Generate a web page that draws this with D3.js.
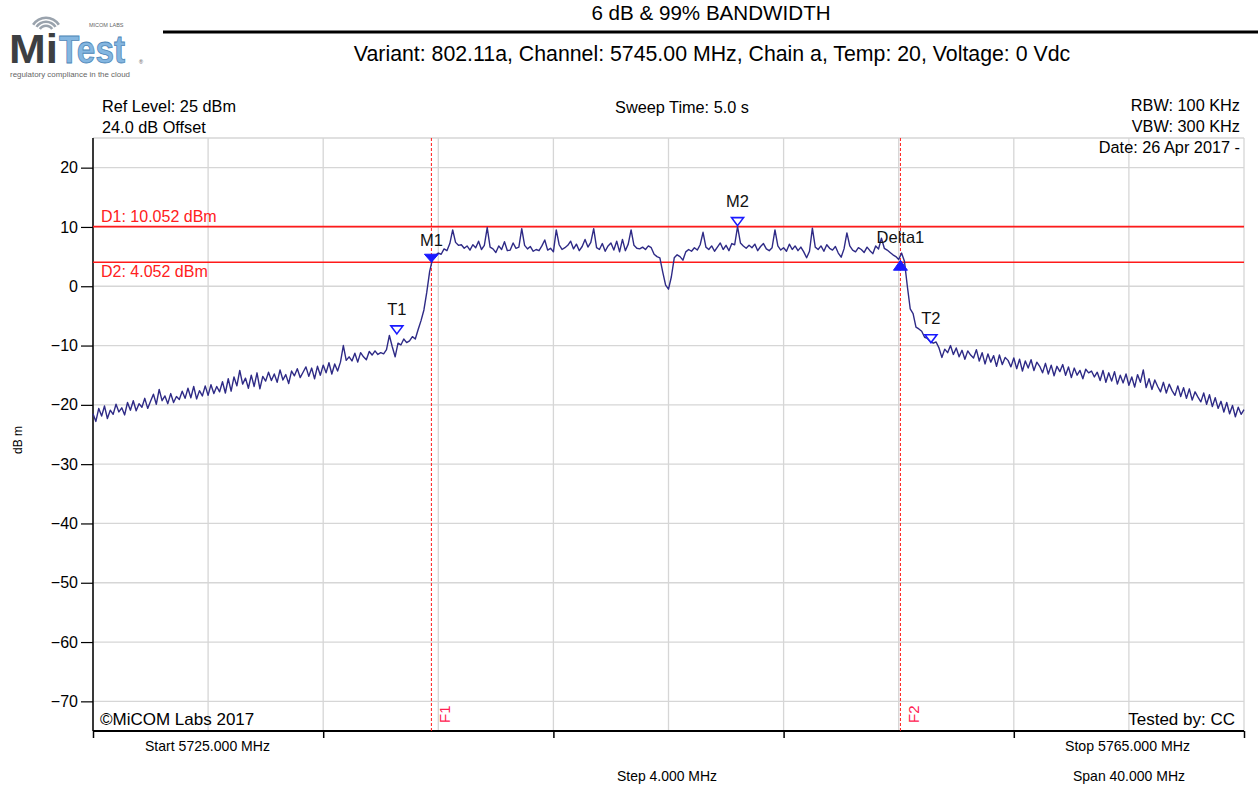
<!DOCTYPE html>
<html><head><meta charset="utf-8">
<script src="https://cdn.jsdelivr.net/npm/d3@7"></script>
<style>
html,body{margin:0;padding:0;background:#fff;}
text{font-family:Arial,"Liberation Sans",sans-serif;}
</style></head>
<body><svg id="c" width="1258" height="786"></svg>
<script>
// ---------- data ----------
const startFreq = 5725.0, stopFreq = 5765.0, stepMHz = 0.1;
const yTicks = [20, 10, 0, -10, -20, -30, -40, -50, -60, -70];
const traceDbm = [
 -21.5,-22.8,-20.6,-21.9,-20.2,-22.3,-20.9,-21.6,-19.9,-21.2,
 -20.5,-21.7,-19.6,-20.9,-19.3,-21.0,-19.8,-20.4,-18.9,-20.6,
 -19.4,-18.2,-19.9,-17.4,-19.3,-18.5,-19.8,-18.1,-19.6,-18.6,
 -19.1,-17.7,-18.9,-17.2,-18.8,-16.9,-19.0,-17.6,-18.5,-16.8,
 -18.4,-16.6,-18.1,-16.9,-17.8,-16.1,-18.0,-15.6,-17.7,-15.3,
 -16.8,-14.2,-16.5,-15.5,-17.2,-15.0,-16.9,-14.6,-17.3,-15.2,
 -16.0,-14.5,-15.9,-14.8,-16.2,-14.1,-15.8,-14.9,-16.4,-14.3,
 -15.1,-13.9,-15.4,-14.5,-13.6,-15.2,-13.8,-15.6,-13.5,-15.0,
 -13.3,-14.6,-12.9,-14.8,-13.1,-14.3,-12.8,-10.0,-12.5,-11.9,
 -12.6,-11.3,-12.8,-11.2,-11.9,-12.4,-11.0,-11.6,-10.9,-11.5,
 -11.2,-11.4,-10.7,-8.3,-10.2,-11.9,-9.6,-9.9,-8.9,-9.5,
 -9.2,-8.5,-8.9,-7.3,-5.8,-4.0,-1.0,2.5,4.6,5.2,
 5.6,5.4,6.3,6.0,7.2,9.5,7.4,6.9,7.0,6.4,
 6.8,6.1,7.0,6.5,7.6,6.2,6.9,9.9,6.6,6.3,
 5.7,6.8,6.2,7.5,6.0,6.1,7.3,6.4,6.6,9.7,
 6.9,6.3,6.7,5.9,6.2,6.0,6.8,7.8,6.1,6.4,
 5.8,9.5,7.0,6.2,6.5,6.9,7.6,6.3,7.1,6.0,
 6.7,7.9,6.6,7.4,9.7,6.5,6.2,7.2,5.9,6.8,
 7.3,6.1,7.6,5.8,7.9,6.0,7.1,9.5,6.9,6.4,
 6.3,6.6,6.2,6.8,6.5,5.4,5.0,4.8,2.4,0.2,
 -0.5,1.6,4.8,5.3,5.0,4.4,5.8,6.2,5.9,6.5,
 6.1,7.0,9.1,6.6,6.2,6.8,5.9,6.6,7.3,6.2,
 6.9,6.0,7.2,7.0,10.05,7.3,6.8,6.4,6.9,6.5,
 7.1,6.0,6.7,7.2,6.3,6.0,6.5,9.5,6.8,6.1,
 6.5,5.9,7.1,6.2,6.8,6.0,6.6,5.8,4.8,5.9,
 9.8,6.6,6.2,6.8,5.9,7.0,6.4,6.1,6.7,5.6,
 4.9,6.3,9.0,6.8,6.1,5.8,6.5,6.2,5.7,6.6,
 6.0,5.5,6.8,6.3,8.1,6.4,6.1,5.7,5.3,5.0,
 4.5,5.6,4.2,0.0,-3.8,-4.6,-6.9,-7.2,-7.6,-8.6,
 -8.8,-9.3,-9.6,-9.4,-10.4,-12.0,-10.6,-11.2,-10.0,-11.5,
 -10.4,-11.9,-10.8,-12.3,-10.9,-11.6,-12.1,-10.7,-12.6,-11.2,
 -13.1,-11.4,-12.8,-11.7,-13.5,-11.6,-13.2,-12.0,-12.5,-13.6,
 -12.1,-13.9,-12.3,-14.3,-12.6,-13.8,-12.4,-14.2,-12.8,-13.5,
 -14.6,-13.0,-14.8,-13.3,-15.1,-13.5,-14.4,-13.2,-15.0,-13.6,
 -15.4,-13.8,-15.0,-14.2,-15.6,-14.0,-14.6,-14.3,-15.3,-14.5,
 -15.9,-14.2,-16.2,-14.6,-16.0,-14.4,-16.5,-15.0,-16.3,-14.8,
 -16.7,-15.3,-17.0,-14.9,-16.2,-14.1,-17.1,-15.6,-17.4,-15.8,
 -16.9,-17.8,-16.2,-18.0,-16.5,-17.6,-18.4,-16.8,-18.6,-17.1,
 -18.9,-17.3,-19.2,-17.8,-18.7,-19.5,-18.0,-19.9,-18.3,-20.3,
 -18.8,-20.6,-19.4,-21.2,-19.6,-21.5,-20.1,-22.0,-20.4,-21.6,
 -20.8
];
const markerNames = ["T1", "M1", "M2", "Delta1", "T2"];
const markerFreqs = [5735.56, 5736.76, 5747.40, 5753.06, 5754.12];
const markerDbm   = [-8.2, 4.052, 10.052, 4.052, -9.7];
const markerKinds = ["open", "filledDown", "open", "filledUp", "open"];
const displayLineNames = ["D1", "D2"];
const displayLineDbm = [10.052, 4.052];
const freqLineNames = ["F1", "F2"];
const freqLineMHz = [5736.76, 5753.06];
const titleText = "6 dB & 99% BANDWIDTH";
const subtitleText = "Variant: 802.11a, Channel: 5745.00 MHz, Chain a, Temp: 20, Voltage: 0 Vdc";
const topLeft = ["Ref Level: 25 dBm", "24.0 dB Offset"];
const topCenter = "Sweep Time: 5.0 s";
const topRight = ["RBW: 100 KHz", "VBW: 300 KHz", "Date: 26 Apr 2017 -"];
const bottomInfo = {start:"Start 5725.000 MHz", stop:"Stop 5765.000 MHz", step:"Step 4.000 MHz", span:"Span 40.000 MHz"};
const footLeft = "\u00A9MiCOM Labs 2017", footRight = "Tested by: CC";
const yLabel = "dB m";

// ---------- layout ----------
const svg = d3.select("#c");
const L = 93, R = 1244, T = 138, B = 731;
const x = d3.scaleLinear().domain([startFreq, stopFreq]).range([L, R]);
const y = d3.scaleLinear().domain([-75, 25]).range([B, T]);
const trace = traceDbm.map((v,i)=>({f:startFreq + i*stepMHz, v}));

// logo
const logo = svg.append("g");
[14,10,6].forEach((r,i)=>{
  logo.append("path").attr("d", d3.arc()({innerRadius:r, outerRadius:r+2.6, startAngle:-1.0, endAngle:1.0}))
    .attr("transform","translate(46,33)").attr("fill", "#9aa3ad");
});
logo.append("text").attr("x",9).attr("y",63).attr("font-size",41).attr("font-weight","bold")
  .attr("fill","#3d3f42").attr("textLength",49).attr("lengthAdjust","spacingAndGlyphs").text("Mi");
logo.append("text").attr("x",59).attr("y",63).attr("font-size",38).attr("font-weight","bold")
  .attr("fill","#84b6e0").attr("stroke","#4d86b8").attr("stroke-width",0.8)
  .attr("textLength",66).attr("lengthAdjust","spacingAndGlyphs").text("Test");
logo.append("text").attr("x",89).attr("y",27).attr("font-size",5.5).attr("fill","#666").text("MICOM LABS");
logo.append("text").attr("x",139).attr("y",64).attr("font-size",5.5).attr("fill","#555").text("\u00AE");
logo.append("text").attr("x",10).attr("y",77).attr("font-size",7.8).attr("fill","#666")
  .attr("textLength",120).attr("lengthAdjust","spacingAndGlyphs").text("regulatory compliance in the cloud");

// title
svg.append("text").attr("x",711).attr("y",20).attr("text-anchor","middle").attr("font-size",20.6).text(titleText);
svg.append("line").attr("x1",163).attr("x2",1258).attr("y1",32).attr("y2",32).attr("stroke","#000").attr("stroke-width",3);
svg.append("text").attr("x",712).attr("y",61).attr("text-anchor","middle").attr("font-size",21.3).text(subtitleText);

// grid
const g = svg.append("g");
const xGrid = d3.range(startFreq, stopFreq + 0.001, 4);
g.selectAll(".vg").data(xGrid).join("line")
  .attr("x1",d=>x(d)).attr("x2",d=>x(d)).attr("y1",T).attr("y2",B)
  .attr("stroke","#d6d6d6").attr("stroke-width",1.3);
g.selectAll(".hg").data(yTicks.concat([25])).join("line")
  .attr("x1",L).attr("x2",R).attr("y1",d=>y(d)).attr("y2",d=>y(d))
  .attr("stroke","#d6d6d6").attr("stroke-width",1.3);

// axes
const yAxis = d3.axisLeft(y).tickValues(yTicks).tickSize(12).tickPadding(3);
const ya = svg.append("g").attr("transform",`translate(${L},0)`).call(yAxis);
ya.select(".domain").attr("d",`M0,${T}V${B}`).attr("stroke","#000").attr("stroke-width",1.5);
ya.selectAll(".tick line").attr("stroke","#000").attr("stroke-width",1.2);
ya.selectAll(".tick text").attr("font-size",16).attr("font-family","Arial,'Liberation Sans',sans-serif").attr("fill","#000");
const xAxis = d3.axisBottom(x).tickValues(d3.range(startFreq, stopFreq+0.001, 8)).tickSize(7).tickFormat("");
const xa = svg.append("g").attr("transform",`translate(0,${B})`).call(xAxis);
xa.select(".domain").attr("d",`M${L},0H${R}`).attr("stroke","#000").attr("stroke-width",2);
xa.selectAll(".tick line").attr("stroke","#000").attr("stroke-width",1.5);

// header texts in plot
const ts = 16.3;
svg.selectAll(".tl").data(topLeft).join("text").attr("x",102).attr("y",(d,i)=>112+i*21)
  .attr("font-size",ts).text(d=>d);
svg.append("text").attr("x",682).attr("y",113).attr("text-anchor","middle").attr("font-size",ts).text(topCenter);
svg.selectAll(".tr").data(topRight).join("text").attr("x",1240).attr("y",(d,i)=>111+i*21)
  .attr("text-anchor","end").attr("font-size",ts).text(d=>d);

// footer texts
svg.append("text").attr("x",100).attr("y",725).attr("font-size",17).text(footLeft);
svg.append("text").attr("x",1235).attr("y",725).attr("text-anchor","end").attr("font-size",17).text(footRight);
const bl = (txt, xx, yy, anchor, len) => svg.append("text").attr("x",xx).attr("y",yy).attr("text-anchor",anchor)
  .attr("font-size",15).attr("textLength",len).attr("lengthAdjust","spacingAndGlyphs").text(txt);
bl(bottomInfo.start, 145, 751, "start", 125);
bl(bottomInfo.stop, 1065, 751, "start", 125);
bl(bottomInfo.step, 667, 781, "middle", 100);
bl(bottomInfo.span, 1129, 781, "middle", 112);
svg.append("text").attr("transform","translate(22,440) rotate(-90)").attr("text-anchor","middle").attr("font-size",12).text(yLabel);

// display lines D1, D2
displayLineDbm.forEach((v,i)=>{
  svg.append("line").attr("x1",L).attr("x2",R).attr("y1",y(v)).attr("y2",y(v)).attr("stroke","#ff1a1a").attr("stroke-width",1.6);
  const lab = `${displayLineNames[i]}: ${v.toFixed(3)} dBm`;
  svg.append("text").attr("x",101).attr("y", i===0 ? y(v)-5 : y(v)+15).attr("font-size",16).attr("fill","#ff2020").text(lab);
});
// freq lines F1, F2
freqLineMHz.forEach((f,i)=>{
  svg.append("line").attr("x1",x(f)).attr("x2",x(f)).attr("y1",T).attr("y2",B)
    .attr("stroke","#ff1a1a").attr("stroke-width",1).attr("stroke-dasharray","3,2");
  svg.append("text").attr("transform",`translate(${x(f)+19},${B-8}) rotate(-90)`).attr("font-size",15)
    .attr("fill","#ff2050").text(freqLineNames[i]);
});

// trace
svg.append("path").datum(trace).attr("fill","none").attr("stroke","#2e2a86").attr("stroke-width",1.4)
  .attr("stroke-linejoin","round")
  .attr("d", d3.line().x(d=>x(d.f)).y(d=>y(d.v)));

// markers
markerNames.forEach((n,i)=>{
  const mx = x(markerFreqs[i]), my = y(markerDbm[i]);
  const k = markerKinds[i];
  let path, labelY;
  if (k === "filledUp") {
    path = `M${mx},${my-2}L${mx+7},${my+8}L${mx-7},${my+8}Z`;
    labelY = my - 19;
    svg.append("path").attr("d",path).attr("fill","#1a1aff").attr("stroke","#1a1aff");
  } else if (k === "filledDown") {
    path = `M${mx},${my}L${mx+7},${my-8}L${mx-7},${my-8}Z`;
    labelY = my - 16;
    svg.append("path").attr("d",path).attr("fill","#1a1aff").attr("stroke","#1a1aff");
  } else {
    path = `M${mx},${my-1}L${mx+6},${my-9}L${mx-6},${my-9}Z`;
    labelY = my - 20;
    svg.append("path").attr("d",path).attr("fill","#fff").attr("fill-opacity",0.6).attr("stroke","#1a1aff").attr("stroke-width",1.6);
  }
  svg.append("text").attr("x",mx).attr("y",labelY).attr("text-anchor","middle").attr("font-size",16.5).attr("fill","#111").text(n);
});
</script></body></html>
